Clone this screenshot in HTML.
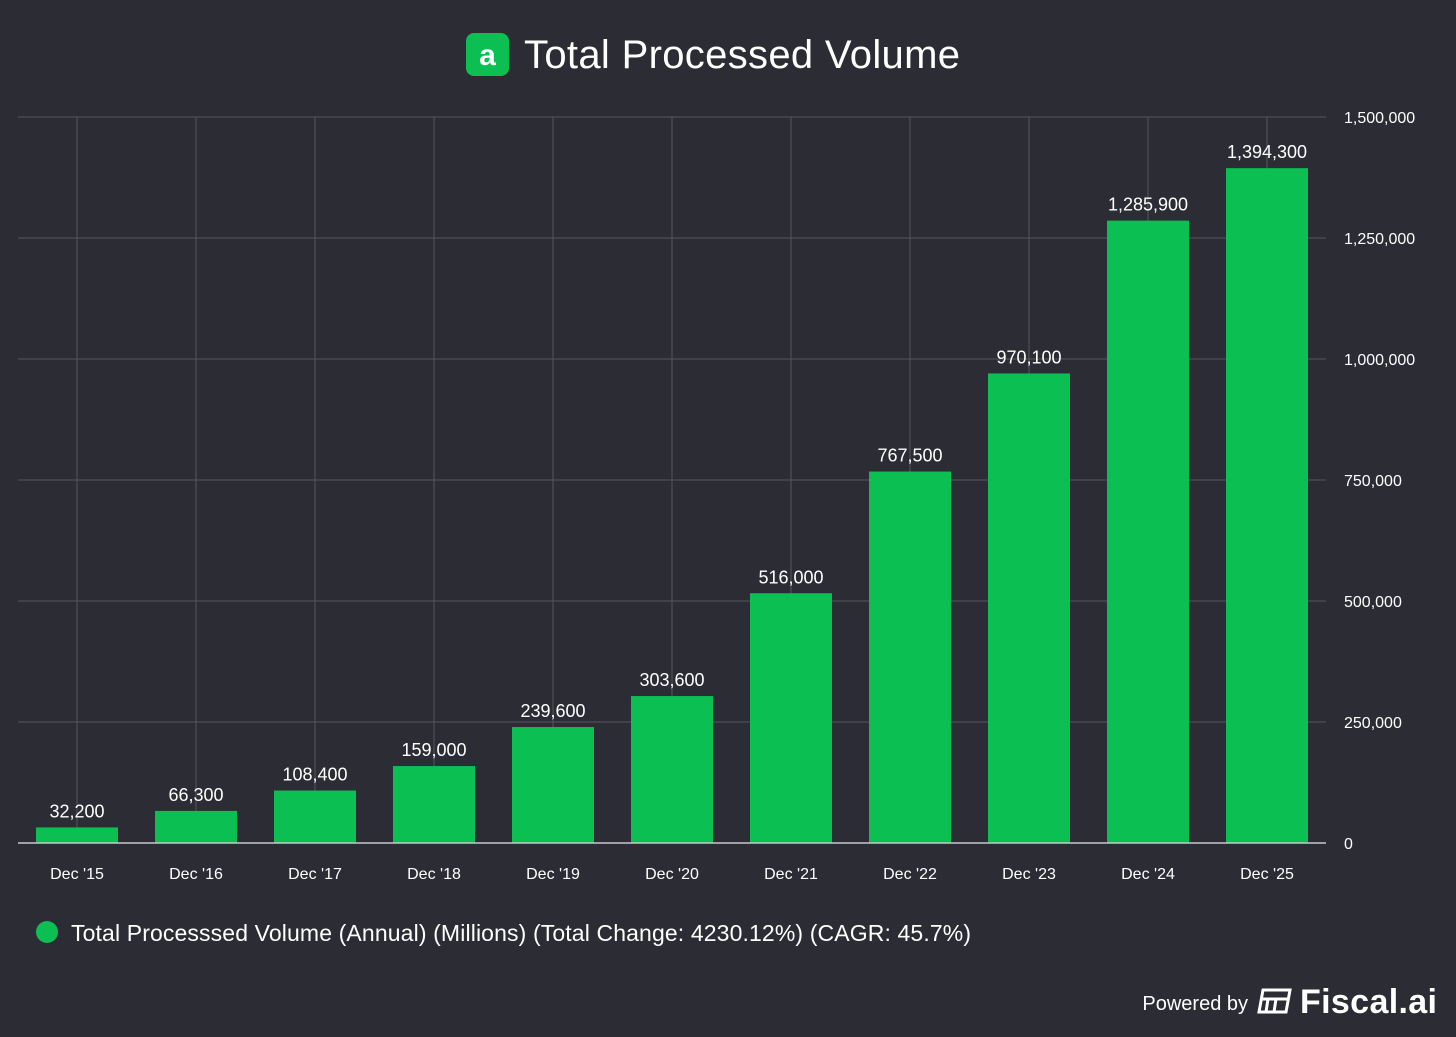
<!DOCTYPE html>
<html><head><meta charset="utf-8"><style>
body{margin:0;background:#2b2c34;width:1456px;height:1032px;overflow:hidden;font-family:"Liberation Sans",sans-serif;}
</style></head><body>
<svg id="chart" width="1456" height="1032" xmlns="http://www.w3.org/2000/svg">
<rect width="1456" height="1032" fill="#2b2c34"/>
<g>
<rect x="466" y="33" width="43" height="43" rx="8" fill="#0bbf52"/>
<text x="487.5" y="65" text-anchor="middle" font-size="30" font-weight="bold" fill="#fff">a</text>
<text x="524" y="68" font-size="40" fill="#fff" textLength="436">Total Processed Volume</text>
</g>
<g id="grid"></g>
<g id="bars"></g>
<g id="axes"></g>
<g>
<circle cx="47" cy="932" r="11" fill="#0bbf52"/>
<text x="71" y="941" font-size="23" fill="#fff" textLength="900">Total Processsed Volume (Annual) (Millions) (Total Change: 4230.12%) (CAGR: 45.7%)</text>
</g>
<g>
<text x="1248" y="1010" font-size="20" fill="#fff" text-anchor="end">Powered by</text>
<g transform="translate(1258,988)" fill="none" stroke="#fff" stroke-width="3">
<path d="M5 2 H32 L28 24 H1 Z"/><path d="M3 11 H30 M10 11 L8 24 M18 11 L16 24"/>
</g>
<text x="1300" y="1013" font-size="34" font-weight="bold" fill="#fff" textLength="137">Fiscal.ai</text>
</g>
</svg>
<script>
const categories=["Dec '15","Dec '16","Dec '17","Dec '18","Dec '19","Dec '20","Dec '21","Dec '22","Dec '23","Dec '24","Dec '25"];
const values=[32200,66300,108400,159000,239600,303600,516000,767500,970100,1285900,1394300];
const ticks=[0,250000,500000,750000,1000000,1250000,1500000];
const NS="http://www.w3.org/2000/svg";
const x0=18,x1=1326,yTop=117,yBot=843,yMax=1500000;
const y=v=>yBot-(v/yMax)*(yBot-yTop);
const step=119,first=77;
const xc=i=>first+i*step;
const fmt=v=>v.toLocaleString('en-US');
function mk(tag,attrs,parent){const e=document.createElementNS(NS,tag);for(const k in attrs)e.setAttribute(k,attrs[k]);parent.appendChild(e);return e;}
const grid=document.getElementById('grid'),bars=document.getElementById('bars'),axes=document.getElementById('axes');
ticks.forEach(t=>{
 if(t>0){const l=mk('line',{x1:x0,x2:x1,y1:y(t),y2:y(t),stroke:'#55565e','stroke-width':1},grid);
 
 }
 const tx=mk('text',{x:1344,y:y(t)+6,'font-size':16,fill:'#fff'},axes);
 tx.textContent=fmt(t);
 
 
});
categories.forEach((c,i)=>{
 const l=mk('line',{x1:xc(i),x2:xc(i),y1:yTop,y2:yBot,stroke:'#55565e','stroke-width':1},grid);
 
 
 const r=mk('rect',{x:xc(i)-41,y:y(values[i]),width:82,height:yBot-y(values[i]),fill:'#0bbf52'},bars);
 
 
 const v=mk('text',{x:xc(i),y:y(values[i])-10,'font-size':18,fill:'#fff','text-anchor':'middle'},bars);
 v.textContent=fmt(values[i]);
 
 
 const t=mk('text',{x:xc(i),y:879,'font-size':16,fill:'#fff','text-anchor':'middle'},axes);
 t.textContent=c;
 
 
});
const ax=mk('line',{x1:x0,x2:x1,y1:yBot,y2:yBot,stroke:'#c8c8cc','stroke-width':1.5},axes);


</script>
</body></html>
